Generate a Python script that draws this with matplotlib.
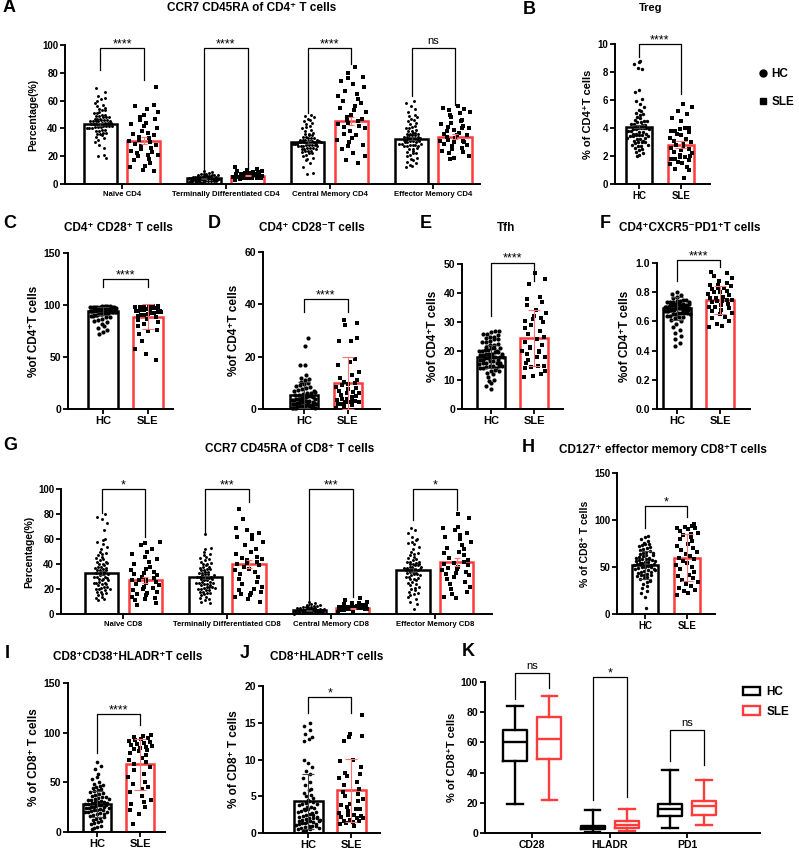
import matplotlib
matplotlib.use('Agg')
import matplotlib.pyplot as plt
import numpy as np
from matplotlib.lines import Line2D
from matplotlib.patches import Patch

plt.rcParams['font.family'] = ['Liberation Sans', 'DejaVu Sans']
plt.rcParams['font.weight'] = 'bold'
plt.rcParams['axes.labelweight'] = 'bold'

W, H = 799, 852
RED = '#ff3b3b'

# ---------------- data ----------------
groups = ['HC', 'SLE']

# A: CCR7 CD45RA of CD4+ T cells
a_cats = ['Naïve CD4', 'Terminally Differentiated CD4', 'Central Memory CD4', 'Effector Memory CD4']
a_hc_mean = [43, 4, 30, 32.5]
a_hc_err = [1.0, 0.3, 0.9, 1.1]
a_sle_mean = [31, 6, 45.5, 34]
a_sle_err = [2.5, 0.4, 3.0, 1.8]
a_naive_hc = [19, 20, 21, 26, 28, 30, 32, 33, 34, 35, 36, 36, 37, 37, 38, 38, 39, 39, 40, 40, 40, 41, 41, 41,
              42, 42, 42, 42, 43, 43, 43, 43, 44, 44, 44, 44, 45, 45, 45, 45, 46, 46, 46, 47, 47, 47, 48, 48,
              48, 49, 49, 50, 50, 51, 51, 52, 53, 53, 54, 55, 56, 57, 58, 60, 61, 62, 63, 66, 69, 45]
a_naive_sle = [9, 10, 12, 13, 15, 17, 18, 20, 21, 21, 22, 23, 24, 25, 26, 27, 28, 29, 30, 31, 32, 33, 34, 35,
               36, 37, 38, 40, 42, 43, 44, 46, 47, 48, 50, 52, 54, 56, 57, 70]
a_term_hc = [0.5, 0.8, 1, 1.2, 1.5, 1.5, 1.8, 2, 2, 2.2, 2.3, 2.5, 2.5, 2.7, 2.8, 3, 3, 3, 3.2, 3.3, 3.5, 3.5,
             3.6, 3.8, 4, 4, 4, 4.2, 4.3, 4.5, 4.5, 4.7, 4.8, 5, 5, 5, 5.2, 5.4, 5.5, 5.7, 6, 6, 6.2, 6.5, 6.8,
             7, 7.2, 7.5, 8, 8.5, 9, 3.4, 2.9, 3.9, 4.1, 1.9, 2.6, 5.1, 6.3, 3.7]
a_term_sle = [3, 3.5, 4, 4, 4.2, 4.5, 4.5, 4.8, 5, 5, 5, 5.2, 5.3, 5.5, 5.5, 5.6, 5.8, 6, 6, 6, 6.2, 6.3, 6.5,
              6.5, 6.7, 7, 7, 7.2, 7.5, 7.8, 8, 8.3, 8.7, 9, 9.5, 10, 11, 12, 5.9, 6.1]
a_cm_hc = [7, 8, 12, 15, 17, 18, 19, 20, 21, 22, 22, 23, 24, 24, 25, 25, 26, 26, 27, 27, 27, 28, 28, 28, 29,
           29, 29, 30, 30, 30, 30, 31, 31, 31, 32, 32, 32, 33, 33, 34, 34, 35, 35, 36, 36, 37, 38, 39, 40, 41,
           42, 43, 44, 45, 46, 47, 48, 49, 50, 28, 30, 29, 31, 27, 26, 33, 25, 32, 24, 30]
a_cm_sle = [15, 17, 20, 22, 25, 27, 28, 30, 32, 33, 35, 36, 38, 40, 41, 42, 43, 44, 45, 46, 47, 48, 50, 52,
            53, 55, 56, 58, 60, 61, 63, 65, 67, 70, 72, 74, 76, 77, 80, 84]
a_em_hc = [12, 13, 14, 15, 16, 17, 18, 19, 20, 21, 22, 22, 23, 24, 25, 25, 26, 27, 27, 28, 28, 29, 29, 30, 30,
           31, 31, 32, 32, 33, 33, 33, 34, 34, 35, 35, 36, 36, 37, 37, 38, 38, 39, 40, 40, 41, 42, 43, 44, 45,
           46, 47, 48, 49, 50, 52, 54, 56, 58, 60, 32, 30, 35, 28, 34, 31, 36, 27, 33, 29]
a_em_sle = [18, 19, 20, 22, 23, 24, 25, 26, 27, 28, 29, 30, 30, 31, 32, 33, 34, 35, 36, 37, 38, 39, 40, 40,
            41, 42, 43, 44, 45, 46, 48, 50, 51, 52, 53, 54, 55, 56, 35, 31]

# B: Treg
b_mean = [4.1, 2.8]
b_err = [0.13, 0.25]
b_hc = [2.0, 2.1, 2.2, 2.3, 2.4, 2.5, 2.6, 2.7, 2.8, 2.9, 3.0, 3.0, 3.1, 3.2, 3.2, 3.3, 3.4, 3.4, 3.5, 3.5,
        3.6, 3.6, 3.7, 3.7, 3.8, 3.8, 3.9, 3.9, 4.0, 4.0, 4.0, 4.1, 4.1, 4.2, 4.2, 4.3, 4.3, 4.4, 4.4, 4.5,
        4.5, 4.6, 4.7, 4.8, 4.9, 5.0, 5.1, 5.2, 5.3, 5.5, 5.7, 5.9, 6.1, 6.6, 6.7, 8.2, 8.3, 8.6, 8.7, 8.8,
        3.0, 3.5, 2.8, 3.3, 4.0, 3.6, 3.1, 2.7, 3.9, 3.4]
b_sle = [0.4, 1.0, 1.1, 1.2, 1.4, 1.5, 1.6, 1.7, 1.8, 1.8, 1.9, 1.9, 2.0, 2.1, 2.2, 2.3, 2.4, 2.5, 2.6, 2.7,
         2.8, 2.9, 3.0, 3.1, 3.2, 3.3, 3.5, 3.6, 3.7, 3.8, 3.8, 3.9, 4.0, 4.0, 4.5, 4.7, 5.0, 5.2, 5.5, 5.7]

# C: CD4+ CD28+
c_mean = [94, 88.5]
c_err = [4, 12]
c_hc = [72, 74, 76, 78, 80, 82, 84, 85, 86, 87, 88, 88, 89, 89, 90, 90, 90, 91, 91, 91, 92, 92, 92, 92, 93,
        93, 93, 93, 94, 94, 94, 94, 95, 95, 95, 95, 95, 96, 96, 96, 96, 96, 97, 97, 97, 97, 97, 98, 98, 98,
        98, 98, 99, 99, 99, 99, 96, 95, 94, 97, 98, 93, 96, 95, 97, 94, 98, 96, 95, 97]
c_sle = [47, 53, 58, 65, 72, 75, 76, 80, 82, 84, 86, 87, 88, 89, 90, 90, 91, 92, 92, 93, 93, 94, 94, 95, 95,
         95, 96, 96, 96, 97, 97, 97, 98, 98, 98, 99, 99, 99, 96, 94]

# D: CD4+ CD28-
d_mean = [5.2, 10]
d_err = [5, 10]
d_hc = [0.2, 0.3, 0.5, 0.5, 0.7, 0.8, 1, 1, 1.2, 1.3, 1.5, 1.5, 1.8, 2, 2, 2.2, 2.4, 2.5, 2.7, 3, 3, 3.2, 3.4,
        3.5, 3.7, 4, 4, 4.2, 4.5, 4.7, 5, 5, 5.3, 5.5, 5.8, 6, 6.2, 6.5, 7, 7.2, 7.5, 8, 8.3, 8.7, 9, 9.5, 10,
        10.5, 11, 11.5, 12, 13, 17, 17, 24, 27, 1.1, 2.1, 0.9, 3.1, 1.7, 2.8, 0.6, 4.4, 1.4, 3.8, 2.3, 0.4,
        1.9, 6.8]
d_sle = [0.5, 1, 1.5, 2, 2, 2.5, 2.5, 3, 3, 3.5, 4, 4, 4.5, 5, 5.5, 6, 6.5, 7, 7.5, 8, 8.5, 9, 9.5, 10, 10.5,
         11, 12, 13, 14, 17, 18, 19, 26, 26, 27, 32, 33, 34, 2.8, 6.2]

# E: Tfh
e_mean = [18, 24.5]
e_err = [4, 9.7]
e_hc = [7, 8, 9, 9.5, 10, 11, 12, 12.5, 13, 13.5, 14, 14, 14.5, 15, 15, 15.5, 16, 16, 16.5, 16.5, 17, 17,
        17.5, 17.5, 18, 18, 18, 18.5, 18.5, 19, 19, 19, 19.5, 19.5, 20, 20, 20.5, 20.5, 21, 21, 21.5, 22, 22,
        22.5, 23, 23, 23.5, 24, 24, 24.5, 25, 25, 25.5, 26, 26, 26.5, 27, 27, 14, 15, 16, 17, 18, 19, 20, 13,
        16, 18, 21, 15]
e_sle = [11, 11.5, 12, 13, 14, 14.5, 15, 15, 16, 17, 18, 18, 19, 19.5, 20, 21, 21.5, 22, 23, 24, 25, 26, 27,
         28, 29, 30, 30.5, 31, 31.5, 32, 33, 34, 36, 37, 38, 38.5, 43, 45, 47, 20]

# F: CD4+CXCR5-PD1+
f_mean = [0.69, 0.745]
f_err = [0.08, 0.095]
f_hc = [0.43, 0.45, 0.48, 0.50, 0.52, 0.54, 0.56, 0.58, 0.60, 0.61, 0.62, 0.63, 0.63, 0.64, 0.64, 0.65, 0.65,
        0.66, 0.66, 0.66, 0.67, 0.67, 0.67, 0.68, 0.68, 0.68, 0.68, 0.69, 0.69, 0.69, 0.69, 0.70, 0.70, 0.70,
        0.70, 0.71, 0.71, 0.71, 0.71, 0.72, 0.72, 0.72, 0.73, 0.73, 0.73, 0.74, 0.74, 0.75, 0.75, 0.76, 0.77,
        0.78, 0.79, 0.80, 0.69, 0.70, 0.68, 0.71, 0.67, 0.72, 0.66, 0.70, 0.69, 0.73, 0.68, 0.65, 0.71, 0.70,
        0.69, 0.72]
f_sle = [0.56, 0.57, 0.58, 0.60, 0.62, 0.63, 0.65, 0.66, 0.67, 0.68, 0.69, 0.70, 0.70, 0.71, 0.72, 0.73, 0.74,
         0.74, 0.75, 0.76, 0.76, 0.77, 0.78, 0.79, 0.80, 0.80, 0.81, 0.82, 0.83, 0.83, 0.84, 0.85, 0.85, 0.86,
         0.88, 0.90, 0.91, 0.93, 0.94, 0.75]

# G: CCR7 CD45RA of CD8+ T cells
g_cats = ['Naïve CD8', 'Terminally Differentiated CD8', 'Central Memory CD8', 'Effector Memory CD8']
g_hc_mean = [33, 29.5, 3, 35]
g_hc_err = [1.5, 1.3, 0.3, 1.5]
g_sle_mean = [27.5, 40, 4.5, 41.5]
g_sle_err = [2.5, 3.5, 0.4, 3.2]
g_naive_hc = [11, 12, 13, 14, 15, 16, 17, 18, 18, 19, 20, 20, 21, 22, 22, 23, 24, 25, 25, 26, 27, 28, 28, 29,
              30, 30, 31, 32, 33, 33, 34, 35, 35, 36, 37, 38, 38, 39, 40, 40, 41, 42, 43, 44, 45, 46, 47, 48,
              49, 50, 52, 54, 56, 58, 59, 60, 67, 73, 76, 78, 80, 25, 30, 35, 20, 32, 37, 27, 42, 24]
g_naive_sle = [7, 9, 11, 12, 13, 14, 15, 16, 17, 18, 19, 20, 21, 22, 23, 24, 25, 26, 27, 27, 28, 29, 30, 31,
               32, 33, 34, 35, 36, 38, 40, 42, 44, 46, 48, 50, 52, 55, 57, 58]
g_term_hc = [9, 10, 11, 12, 13, 14, 15, 16, 17, 17, 18, 18, 19, 20, 20, 21, 22, 22, 23, 24, 24, 25, 25, 26,
             27, 27, 28, 28, 29, 29, 30, 30, 31, 32, 32, 33, 33, 34, 35, 35, 36, 37, 38, 39, 40, 40, 41, 42,
             43, 44, 45, 46, 47, 48, 50, 52, 53, 64, 26, 30, 22, 34, 19, 28, 36, 21, 31, 25, 38, 23]
g_term_sle = [10, 12, 14, 15, 16, 17, 18, 19, 20, 22, 24, 26, 28, 30, 32, 34, 35, 36, 38, 39, 40, 41, 42, 43,
              44, 45, 46, 48, 50, 52, 55, 58, 60, 62, 63, 65, 67, 69, 76, 84]
g_cm_hc = [0.3, 0.5, 0.7, 0.9, 1, 1.2, 1.4, 1.5, 1.7, 1.8, 2, 2, 2.2, 2.3, 2.5, 2.5, 2.7, 2.8, 3, 3, 3, 3.2,
           3.3, 3.5, 3.5, 3.7, 3.8, 4, 4, 4.2, 4.4, 4.5, 4.7, 5, 5, 5.3, 5.5, 5.8, 6, 6.3, 6.5, 7, 7.5, 8, 9,
           10, 2.4, 3.1, 1.6, 2.9, 3.4, 1.9, 2.6, 4.1, 3.6, 2.1, 1.3, 2.7, 3.9, 1.1]
g_cm_sle = [2, 2.5, 3, 3, 3.3, 3.5, 3.5, 3.8, 4, 4, 4, 4.2, 4.3, 4.5, 4.5, 4.6, 4.8, 5, 5, 5, 5.2, 5.3, 5.5,
            5.5, 5.7, 6, 6, 6.2, 6.5, 7, 7.5, 8, 8.5, 9, 10, 11, 13, 4.4, 4.7, 3.9]
g_em_hc = [4, 8, 10, 12, 14, 15, 16, 17, 18, 19, 20, 21, 22, 23, 24, 25, 26, 27, 28, 28, 29, 30, 30, 31, 32,
           32, 33, 34, 34, 35, 35, 36, 36, 37, 37, 38, 38, 39, 39, 40, 40, 41, 42, 42, 43, 44, 45, 46, 47, 48,
           49, 50, 52, 54, 56, 57, 58, 59, 60, 62, 65, 67, 69, 35, 38, 33, 40, 36, 31, 42]
g_em_sle = [13, 14, 16, 18, 20, 22, 24, 26, 28, 30, 31, 32, 33, 34, 35, 36, 37, 38, 39, 40, 41, 42, 43, 45,
            47, 49, 50, 52, 53, 55, 58, 60, 62, 63, 65, 67, 69, 70, 77, 80]

# H: CD127+ effector memory CD8+
h_mean = [52, 60]
h_err = [15, 25]
h_hc = [6, 18, 22, 25, 28, 30, 32, 34, 35, 37, 38, 40, 41, 42, 43, 44, 45, 46, 47, 48, 49, 50, 50, 51, 52, 53,
        54, 54, 55, 56, 57, 58, 58, 59, 60, 61, 62, 63, 64, 65, 66, 67, 68, 69, 70, 71, 72, 73, 74, 75, 76, 78,
        80, 82, 83, 45, 50, 55, 60, 48, 52, 57, 42, 63, 39, 53, 47, 65, 36, 56]
h_sle = [20, 22, 24, 26, 28, 30, 32, 34, 36, 38, 40, 42, 45, 48, 50, 52, 54, 56, 58, 60, 62, 64, 66, 68, 70,
         72, 75, 78, 80, 82, 84, 85, 86, 88, 90, 91, 92, 93, 94, 96]

# I: CD8+CD38+HLADR+
i_mean = [28, 68]
i_err = [13, 26]
i_hc = [3, 4, 5, 6, 8, 9, 10, 11, 12, 13, 14, 15, 16, 17, 18, 19, 20, 20, 21, 22, 22, 23, 24, 24, 25, 25, 26,
        27, 27, 28, 28, 29, 30, 30, 31, 32, 32, 33, 34, 35, 36, 37, 38, 39, 40, 41, 42, 43, 44, 45, 46, 47, 48,
        50, 53, 55, 58, 63, 66, 70, 25, 30, 22, 35, 27, 18, 33, 24, 29, 20]
i_sle = [8, 18, 22, 25, 28, 30, 32, 36, 40, 43, 45, 48, 50, 55, 58, 62, 65, 68, 70, 72, 75, 78, 80, 82, 83, 84,
         85, 86, 87, 88, 89, 90, 91, 92, 93, 94, 95, 96, 97, 98]

# J: CD8+HLADR+
j_mean = [4.3, 5.8]
j_err = [3.7, 4.3]
j_hc = [0.3, 0.4, 0.5, 0.6, 0.7, 0.8, 0.9, 1.0, 1.1, 1.2, 1.3, 1.4, 1.5, 1.6, 1.7, 1.8, 1.9, 2.0, 2.1, 2.2,
        2.3, 2.5, 2.6, 2.8, 3.0, 3.1, 3.3, 3.5, 3.6, 3.8, 4.0, 4.1, 4.3, 4.5, 4.7, 5.0, 5.2, 5.5, 5.8, 6.0,
        6.5, 7.0, 7.5, 8.0, 8.5, 9.0, 9.5, 10.0, 12.5, 12.8, 13.0, 13.5, 14.0, 14.5, 15.0, 1.5, 2.4, 3.2, 1.2,
        2.0, 0.9, 2.7, 1.8, 3.4, 4.2, 1.6, 2.9, 0.7, 3.9, 2.2]
j_sle = [1.0, 1.2, 1.4, 1.5, 1.7, 1.8, 2.0, 2.0, 2.2, 2.4, 2.5, 2.7, 3.0, 3.2, 3.5, 3.8, 4.0, 4.3, 4.6, 5.0,
         5.3, 5.6, 6.0, 6.5, 7.0, 7.5, 7.8, 8.0, 8.2, 9.0, 9.8, 10.0, 12.5, 13.0, 13.2, 13.5, 16.0, 2.3, 1.6,
         3.3]

# K: box plots (whislo, q1, med, q3, whishi)
k_cats = ['CD28', 'HLADR', 'PD1']
k_hc = [[19, 48, 60, 68, 84], [0.5, 2.5, 3.5, 4.5, 15], [3.5, 11, 16, 19.5, 42]]
k_sle = [[22, 49, 62, 77, 91], [1, 3, 5.5, 8, 16], [5, 12, 18, 21, 35]]


# ---------------- helpers ----------------
def px_axes(fig, l, t, r, b):
    return fig.add_axes([l / W, 1 - b / H, (r - l) / W, (b - t) / H])


def setup(ax, xlim, ymax, ystep, ylabel, ytick_fs, ylabel_fs, yfmt=None):
    ax.set_xlim(*xlim)
    ax.set_ylim(0, ymax)
    ticks = np.arange(0, ymax + ystep / 2, ystep)
    ax.set_yticks(ticks)
    if yfmt:
        ax.set_yticklabels([yfmt.format(t) for t in ticks])
    for s in ['top', 'right']:
        ax.spines[s].set_visible(False)
    for s in ['left', 'bottom']:
        ax.spines[s].set_linewidth(1.4)
    ax.tick_params(axis='both', width=1.3, length=3.5, labelsize=ytick_fs, pad=1.5)
    ax.set_ylabel(ylabel, fontsize=ylabel_fs, labelpad=3)


def swarm_x(ax, values, xc, dot_px, half, min_frac):
    # spread dots of similar height across the bar, row by row
    pos = ax.get_position()
    x0, x1 = ax.get_xlim()
    y0, y1 = ax.get_ylim()
    sx = pos.width * W / (x1 - x0)
    sy = pos.height * H / (y1 - y0)
    half_px = half * sx
    rows = np.floor(values * sy / (dot_px * 1.1)).astype(int)
    out = np.full(len(values), float(xc))
    for r in np.unique(rows):
        idx = np.where(rows == r)[0]
        n = len(idx)
        w = min(half_px, max(n * dot_px / 2, half_px * min_frac))
        offs = ((np.arange(n) + 0.5) / n * 2 - 1) * w
        offs += ((r * 0.618) % 1 - 0.5) * (2 * w / n)
        offs = np.clip(offs, -half_px, half_px)
        out[idx] = xc + offs / sx
    return out


def group(ax, x, values, mean, err, color, marker, width, dot_px, s, cap=3, min_frac=0.35):
    values = np.asarray(values, dtype=float)
    ax.bar(x, mean, width, facecolor='none', edgecolor=color, linewidth=1.8, zorder=2)
    xs = swarm_x(ax, values, x, dot_px, width / 2 * 0.9, min_frac)
    ax.scatter(xs, values, s=s, marker=marker, color='black', linewidths=0, zorder=3, clip_on=False)
    ecol = '#ff7373' if color != 'black' else '#444444'
    ax.errorbar(x, mean, yerr=err, fmt='none', ecolor=ecol, elinewidth=0.8, capsize=cap,
                capthick=0.8, zorder=4)


def bracket(ax, x1, x2, ytop, y1, y2, text, fs=9):
    ax.plot([x1, x1, x2, x2], [y1, ytop, ytop, y2], color='black', lw=0.9, clip_on=False, zorder=5)
    if text == 'ns':
        ax.annotate(text, (0.5 * (x1 + x2), ytop), xytext=(0, 3), textcoords='offset points',
                    ha='center', va='baseline', fontsize=fs - 1, fontweight='normal', annotation_clip=False)
    else:
        ax.annotate(text, (0.5 * (x1 + x2), ytop), xytext=(0, 0.5), textcoords='offset points',
                    ha='center', va='baseline', fontsize=fs, fontweight='normal', annotation_clip=False)


def two_group(ax, hc, sle, means, errs, width, dot_px, s, xfs, cap=4):
    group(ax, 0, hc, means[0], errs[0], 'black', 'o', width, dot_px, s, cap, 0.4)
    group(ax, 1, sle, means[1], errs[1], RED, 's', width, dot_px, s * 1.2, cap, 1.0)
    ax.set_xticks([0, 1])
    ax.set_xticklabels(groups, fontsize=xfs)


def multi_group(ax, hc_list, sle_list, hc_mean, hc_err, sle_mean, sle_err, cats):
    off, width = 0.21, 0.32
    for i in range(len(cats)):
        group(ax, i - off, hc_list[i], hc_mean[i], hc_err[i], 'black', 'o', width, 2.8, 4.5, 2.5, 0.4)
        group(ax, i + off, sle_list[i], sle_mean[i], sle_err[i], RED, 's', width, 3.0, 5.5, 2.5, 1.0)
    ax.set_xticks(range(len(cats)))
    ax.set_xticklabels(cats, fontsize=5.6)


fig = plt.figure(figsize=(W / 100, H / 100), dpi=100)


def label(x, y, text, fs=13):
    fig.text(x / W, 1 - y / H, text, fontsize=fs, fontweight='bold', ha='left', va='center')


def title(x, y, text, fs=8.5):
    fig.text(x / W, 1 - y / H, text, fontsize=fs, fontweight='bold', ha='center', va='center')


# ---------------- A ----------------
ax = px_axes(fig, 65, 45, 480, 184)
setup(ax, (-0.55, 3.45), 100, 20, 'Percentage(%)', 7, 7.5)
multi_group(ax, [a_naive_hc, a_term_hc, a_cm_hc, a_em_hc], [a_naive_sle, a_term_sle, a_cm_sle, a_em_sle],
            a_hc_mean, a_hc_err, a_sle_mean, a_sle_err, a_cats)
bracket(ax, -0.21, 0.21, 98, 82, 75, '****')
bracket(ax, 0.79, 1.21, 98, 5, 11, '****')
bracket(ax, 1.79, 2.21, 98, 51, 86, '****')
bracket(ax, 2.79, 3.21, 98, 63, 57, 'ns')
label(3, 8, 'A')
title(252, 8, 'CCR7 CD45RA of CD4\u207a T cells')

# ---------------- B ----------------
ax = px_axes(fig, 615, 44, 710, 184)
setup(ax, (-0.57, 1.69), 10, 2, '% of CD4\u207aT cells', 7, 8)
two_group(ax, b_hc, b_sle, b_mean, b_err, 0.62, 3.2, 6, 7, cap=4)
bracket(ax, 0, 1, 10, 9.1, 6.4, '****')
label(523, 9, 'B')
title(651, 8, 'Treg', 8)
fig.legend(handles=[Line2D([], [], marker='o', ls='', color='black', ms=5, label='HC'),
                    Line2D([], [], marker='s', ls='', color='black', ms=4.5, label='SLE')],
           loc='upper left', bbox_to_anchor=(757 / W, 1 - 68 / H), frameon=False,
           prop={'weight': 'bold', 'size': 8.5}, labelspacing=1.35, handletextpad=0.2,
           handlelength=1.0, borderaxespad=0, borderpad=0)

# ---------------- C ----------------
ax = px_axes(fig, 68, 253, 173, 409)
setup(ax, (-0.78, 1.56), 150, 50, '%of CD4\u207aT cells', 7.5, 8.5)
two_group(ax, c_hc, c_sle, c_mean, c_err, 0.66, 4.0, 9, 8)
bracket(ax, 0, 1, 125, 117, 117, '****')
label(3, 224, 'C')
title(118, 228, 'CD4\u207a CD28\u207a T cells')

# ---------------- D ----------------
ax = px_axes(fig, 263, 252, 380, 409)
setup(ax, (-0.93, 1.73), 60, 20, '%of CD4\u207aT cells', 7.5, 8.5)
two_group(ax, d_hc, d_sle, d_mean, d_err, 0.62, 4.0, 9, 8)
bracket(ax, 0, 1, 42, 37, 37, '****')
label(208, 224, 'D')
title(312, 228, 'CD4\u207a CD28\u207bT cells')

# ---------------- E ----------------
ax = px_axes(fig, 462, 264, 563, 409)
setup(ax, (-0.67, 1.67), 50, 10, '%of CD4\u207aT cells', 7.5, 8.5)
two_group(ax, e_hc, e_sle, e_mean, e_err, 0.64, 4.0, 9, 8)
bracket(ax, 0, 1, 50.5, 32, 44, '****')
label(420, 224, 'E')
title(506, 228, 'Tfh')

# ---------------- F ----------------
ax = px_axes(fig, 657, 263, 750, 409)
setup(ax, (-0.47, 1.7), 1.0, 0.2, '%of CD4\u207aT cells', 7.5, 8.5, yfmt='{:.1f}')
two_group(ax, f_hc, f_sle, f_mean, f_err, 0.66, 4.0, 9, 8)
bracket(ax, 0, 1, 1.02, 0.88, 0.97, '****')
label(600, 224, 'F')
title(690, 228, 'CD4\u207aCXCR5\u207bPD1\u207aT cells')

# ---------------- G ----------------
ax = px_axes(fig, 61, 489, 492, 614)
setup(ax, (-0.6, 3.55), 100, 20, 'Percentage(%)', 7, 7.5)
multi_group(ax, [g_naive_hc, g_term_hc, g_cm_hc, g_em_hc], [g_naive_sle, g_term_sle, g_cm_sle, g_em_sle],
            g_hc_mean, g_hc_err, g_sle_mean, g_sle_err, g_cats)
bracket(ax, -0.21, 0.21, 100, 81, 62, '*')
bracket(ax, 0.79, 1.21, 100, 65, 90, '***')
bracket(ax, 1.79, 2.21, 100, 7, 14, '***')
bracket(ax, 2.79, 3.21, 100, 75, 83, '*')
label(3, 445, 'G')
title(290, 449, 'CCR7 CD45RA of CD8\u207a T cells')

# ---------------- H ----------------
ax = px_axes(fig, 617, 473, 715, 614)
setup(ax, (-0.67, 1.67), 150, 50, '% of CD8\u207a T cells', 7, 7.5)
two_group(ax, h_hc, h_sle, h_mean, h_err, 0.6, 3.4, 6, 7)
bracket(ax, 0, 1, 115, 92, 103, '*')
label(522, 447, 'H')
title(663, 450, 'CD127\u207a effector memory CD8\u207aT cells')

# ---------------- I ----------------
ax = px_axes(fig, 68, 683, 165, 832)
setup(ax, (-0.67, 1.58), 150, 50, '% of CD8\u207a T cells', 7.5, 8.5)
two_group(ax, i_hc, i_sle, i_mean, i_err, 0.65, 3.6, 7, 8)
bracket(ax, 0, 1, 119, 80, 108, '****')
label(5, 654, 'I')
title(128, 657, 'CD8\u207aCD38\u207aHLADR\u207aT cells')

# ---------------- J ----------------
ax = px_axes(fig, 263, 686, 380, 833)
setup(ax, (-1.05, 1.67), 20, 5, '% of CD8\u207a T cells', 7.5, 8.5)
two_group(ax, j_hc, j_sle, j_mean, j_err, 0.67, 3.6, 7, 8)
bracket(ax, 0, 1, 18.5, 16.3, 16.3, '*')
label(240, 654, 'J')
title(327, 657, 'CD8\u207aHLADR\u207aT cells')

# ---------------- K ----------------
ax = px_axes(fig, 485, 682, 760, 833)
setup(ax, (-0.61, 2.94), 100, 20, '% of CD8\u207aT cells', 7.5, 8)
keys = ['whislo', 'q1', 'med', 'q3', 'whishi']
for vals, off, col in [(k_hc, -0.22, 'black'), (k_sle, 0.22, RED)]:
    stats = [dict(zip(keys, v)) for v in vals]
    ax.bxp(stats, positions=[i + off for i in range(len(k_cats))], widths=0.31, capwidths=0.2,
           showfliers=False, manage_ticks=False,
           boxprops=dict(color=col, lw=1.7), whiskerprops=dict(color=col, lw=1.7),
           capprops=dict(color=col, lw=1.7), medianprops=dict(color=col, lw=1.7))
ax.set_xticks(range(len(k_cats)))
ax.set_xticklabels(k_cats, fontsize=7.5)
bracket(ax, -0.22, 0.22, 106, 89, 96, 'ns')
bracket(ax, 0.78, 1.22, 103, 22, 24, '*')
bracket(ax, 1.78, 2.22, 68, 48, 45, 'ns')
label(462, 652, 'K')
fig.legend(handles=[Patch(facecolor='white', edgecolor='black', lw=1.7, label='HC'),
                    Patch(facecolor='white', edgecolor=RED, lw=1.7, label='SLE')],
           loc='upper left', bbox_to_anchor=(743 / W, 1 - 686 / H), frameon=False,
           prop={'weight': 'bold', 'size': 8.5}, labelspacing=0.65, handletextpad=0.6,
           handlelength=1.4, handleheight=0.7, borderaxespad=0, borderpad=0)

fig.savefig('out.png', dpi=100)
